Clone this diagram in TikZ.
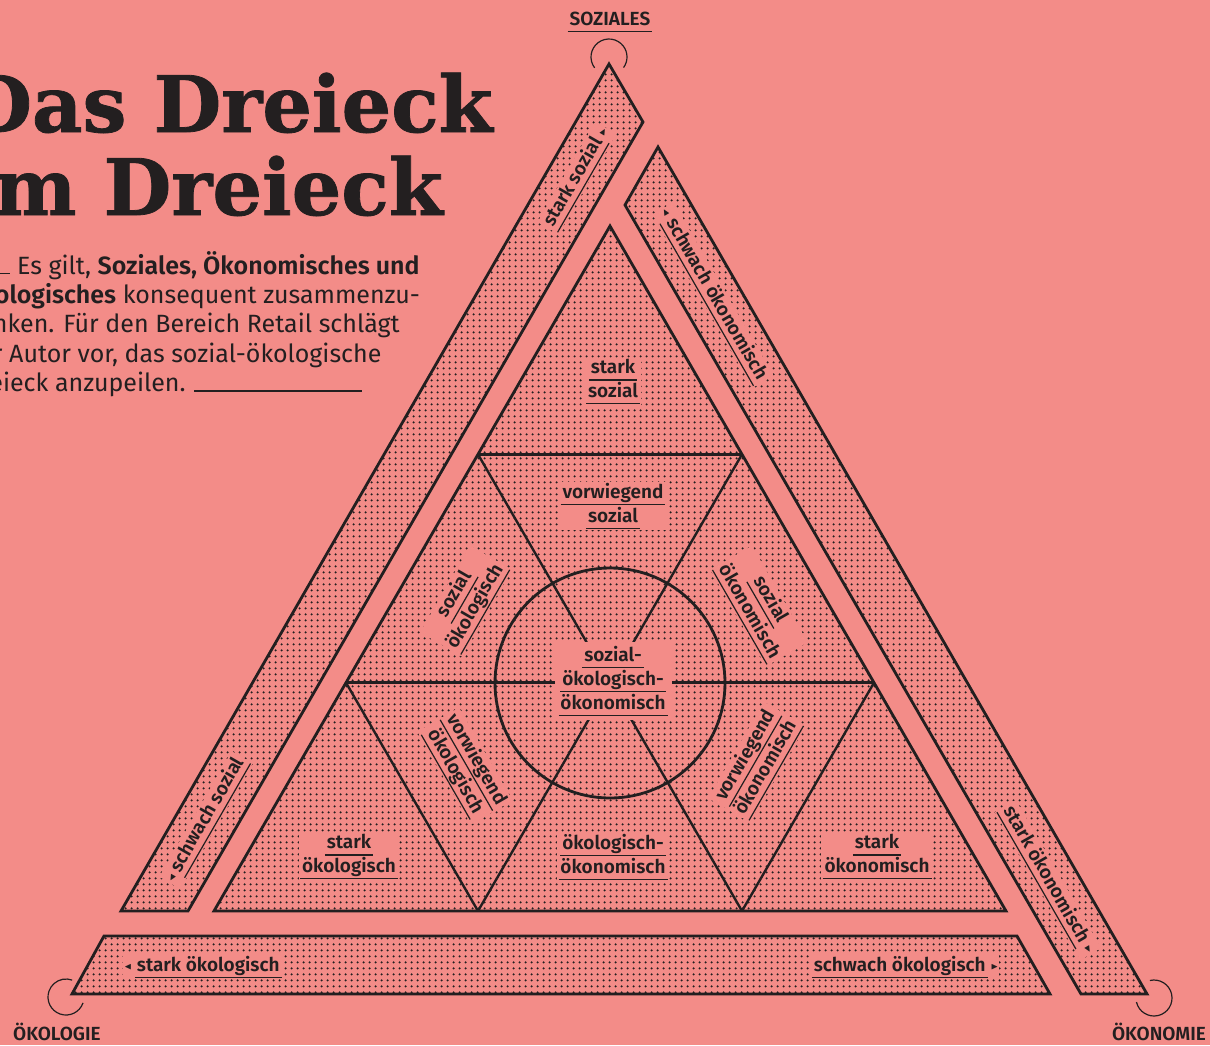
\documentclass[tikz,border=0pt]{standalone}
\usepackage{fontspec}
\usepackage{amssymb}
\setmainfont{Fira Sans}[BoldFont={Fira Sans SemiBold}]
\newfontfamily\headfont{DejaVu Serif}[BoldFeatures={FakeBold=1}]
\usetikzlibrary{calc,patterns,positioning}
\definecolor{dbPink}{HTML}{F38C88}
\definecolor{dbInk}{HTML}{231F20}
\colorlet{dbDot}{dbInk}
% halftone dots for the fields
\pgfdeclarepatternformonly{stipple}{\pgfpointorigin}{\pgfqpoint{2.8pt}{2.8pt}}{\pgfqpoint{2.8pt}{2.8pt}}{%
  \pgfpathcircle{\pgfqpoint{1.4pt}{1.4pt}}{0.65pt}\pgfusepath{fill}}
% underlined label line and small arrow tips
\newcommand{\lblul}[1]{\vtop{\hbox{\kern1pt\vrule width0pt height7pt depth2.7pt#1\kern1pt}\hrule height0.6pt}}
\newcommand{\tipR}{\raisebox{1pt}{\scalebox{0.5}{$\blacktriangleright$}}}
\newcommand{\tipL}{\raisebox{1pt}{\scalebox{0.5}{$\blacktriangleleft$}}}

\begin{document}
\begin{tikzpicture}[x=0.5pt,y=-0.5pt,
  band/.style={pattern=stipple,pattern color=dbDot,draw=dbInk,line width=1.4pt,line join=miter},
  grid/.style={draw=dbInk,line width=1.2pt},
  lbl/.style={font=\fontsize{9.5}{10.5}\selectfont\bfseries,text=dbInk,fill=dbPink,inner sep=0.6pt,align=center},
  corner/.style={draw=dbInk,line width=0.6pt},
  pole/.style={font=\fontsize{9.5}{11}\selectfont\bfseries,text=dbInk,inner sep=0pt},
  title/.style={font=\headfont\bfseries\fontsize{39}{41}\selectfont,text=dbInk,inner sep=0pt,anchor=base west},
  body/.style={font=\fontsize{12.5}{14.65}\selectfont,text=dbInk,inner sep=0pt,align=left}]
\useasboundingbox (0,0) rectangle (1210,1045);
\clip (0,0) rectangle (1210,1045);
\fill[dbPink] (0,0) rectangle (1210,1045);

% heading and intro text
\node[title] (ttlA) at (-36,132) {Das Dreieck};
\node[title] (ttlB) at (-36,215) {im Dreieck};
\node[body,anchor=north west] (intro) at (-36,251) {\rule{23pt}{0.6pt}\ Es gilt, \textbf{Soziales, Ökonomisches und}\\
\textbf{Ökologisches} konsequent zusammenzu-\\
denken. Für den Bereich Retail schlägt\\
der Autor vor, das sozial-ökologische\\
Dreieck anzupeilen. \rule{84pt}{0.6pt}};

% outer bands
\draw[band] (609,64) -- (643,122) -- (188,911) -- (121,911) -- cycle;
\draw[band] (658,147) -- (1147,994) -- (1081,994) -- (625,205) -- cycle;
\draw[band] (72,994) -- (104,936) -- (1017,936) -- (1050,994) -- cycle;

% corner rings
\draw[corner] (609,57) ++(143:18) arc[start angle=143,end angle=396,radius=18];
\draw[corner] (66,997) ++(19:18) arc[start angle=19,end angle=290,radius=18];
\draw[corner] (1154,998) ++(257:18) arc[start angle=257,end angle=527,radius=18];

% inner triangle, split in nine
\coordinate (T) at (610,226);
\coordinate (L) at (214,911);
\coordinate (R) at (1006,911);
\coordinate (TL1) at ($(T)!1/3!(L)$);
\coordinate (TL2) at ($(T)!2/3!(L)$);
\coordinate (TR1) at ($(T)!1/3!(R)$);
\coordinate (TR2) at ($(T)!2/3!(R)$);
\coordinate (B1) at ($(L)!1/3!(R)$);
\coordinate (B2) at ($(L)!2/3!(R)$);
\coordinate (M) at (610,683);
\draw[band] (T) -- (R) -- (L) -- cycle;
\draw[grid] (TL1) -- (TR1) (TL2) -- (TR2);
\draw[grid] (B1) -- (TR1) (B2) -- (TR2);
\draw[grid] (B2) -- (TL1) (B1) -- (TL2);
\draw[grid,line width=1.4pt] (M) circle[radius=115];

% poles
\node[pole] (soz) at (610,22) {\lblul{SOZIALES}};
\node[pole,anchor=base] (oekol) at (57,1040) {ÖKOLOGIE};
\node[pole,anchor=base] (oekon) at (1159,1040) {ÖKONOMIE};

% labels inside the triangle
\node[lbl] (sSoz) at (613,382) {\lblul{stark}\\\lblul{sozial}};
\node[lbl] (vSoz) at (613,506) {\lblul{vorwiegend}\\\lblul{sozial}};
\node[lbl,rotate=60] (sozOekol) at (466,601) {\lblul{sozial}\\\lblul{ökologisch}};
\node[lbl,rotate=-60] (sozOekon) at (759,606) {\lblul{sozial}\\\lblul{ökonomisch}};
\node[lbl,inner sep=2pt] (mid) at (613,681) {\lblul{sozial-}\\\lblul{ökologisch-}\\\lblul{ökonomisch}};
\node[lbl,rotate=-60] (vOekol) at (465,766) {\lblul{vorwiegend}\\\lblul{ökologisch}};
\node[lbl,rotate=60] (vOekon) at (757,762) {\lblul{vorwiegend}\\\lblul{ökonomisch}};
\node[lbl] (sOekol) at (349,857) {\lblul{stark}\\\lblul{ökologisch}};
\node[lbl] (oekOek) at (613,857) {\lblul{ökologisch-}\\\lblul{ökonomisch}};
\node[lbl] (sOekon) at (877,857) {\lblul{stark}\\\lblul{ökonomisch}};

% labels on the bands
\node[lbl,rotate=60] (bSSoz) at (577,178) {\lblul{stark sozial}\,\tipR};
\node[lbl,rotate=60] (bWSoz) at (206,820) {\tipL\,\lblul{schwach sozial}};
\node[lbl,rotate=-60] (bWOekon) at (713,295) {\tipL\,\lblul{schwach ökonomisch}};
\node[lbl,rotate=-60] (bSOekon) at (1048,880) {\lblul{stark ökonomisch}\,\tipR};
\node[lbl] (bSOekol) at (203,967) {\tipL\,\lblul{stark ökologisch}};
\node[lbl] (bWOekol) at (905,967) {\lblul{schwach ökologisch}\,\tipR};
\end{tikzpicture}
\end{document}
